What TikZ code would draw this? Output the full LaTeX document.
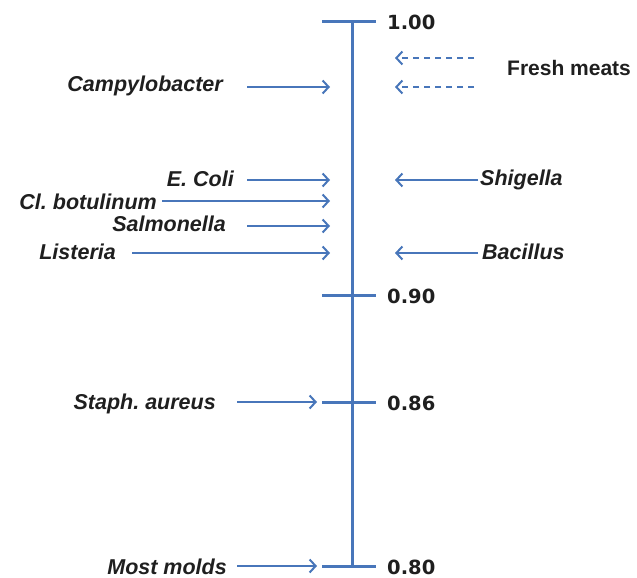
\documentclass[tikz,border=0pt]{standalone}
\usepackage{fontspec}
\setmainfont{Liberation Sans}
\newfontfamily\numfont{DejaVu Sans}
\usetikzlibrary{arrows.meta}
\definecolor{axisblue}{RGB}{72,118,186}
\begin{document}
\frenchspacing
\begin{tikzpicture}[x=1pt,y=-1pt,
  lbl/.style={font=\fontsize{21.5}{24}\selectfont\bfseries\itshape, inner sep=0pt, text=black!88},
  val/.style={font=\numfont\fontsize{19.5}{22}\selectfont\bfseries, inner sep=0pt, anchor=base west, text=black!88},
  arr/.style={draw=axisblue, line width=2pt, -{Straight Barb[length=6pt,width=13pt,line width=2pt]}},
  darr/.style={arr, dash pattern=on 6pt off 5pt},
  tick/.style={draw=axisblue, line width=3pt}]
\useasboundingbox (0,0) rectangle (637,578);

% axis and ticks
\coordinate (top) at (352,22);
\coordinate (bot) at (352,566);
\draw[draw=axisblue, line width=3pt] (top) -- (bot);
\foreach \y/\b/\v/\n in {22/30/1.00/a, 295/303/0.90/b, 402/410/0.86/c, 566/574/0.80/d}{
  \coordinate (tl\n) at (322,\y);
  \coordinate (tr\n) at (376,\y);
  \draw[tick] (tl\n) -- (tr\n);
  \node[val] (v\n) at (387,\b) {\v};
}

% left-hand organisms
\node[lbl, anchor=base east] (campy) at (223,92) {Campylobacter};
\node[lbl, anchor=base east] (ecoli) at (234,186) {E. Coli};
\node[lbl, anchor=base east] (clbot) at (157,209) {Cl. botulinum};
\node[lbl, anchor=base east] (salm) at (226,231) {Salmonella};
\node[lbl, anchor=base east] (list) at (116,259) {Listeria};
\node[lbl, anchor=base east] (staph) at (216,409) {Staph. aureus};
\node[lbl, anchor=base east] (molds) at (227,574) {Most molds};

\coordinate (campyS) at (247,87);  \coordinate (campyE) at (330,87);
\coordinate (ecoliS) at (247,180); \coordinate (ecoliE) at (330,180);
\coordinate (clbotS) at (162,201); \coordinate (clbotE) at (330,201);
\coordinate (salmS) at (247,226);  \coordinate (salmE) at (330,226);
\coordinate (listS) at (132,253);  \coordinate (listE) at (330,253);
\coordinate (staphS) at (237,402); \coordinate (staphE) at (317,402);
\coordinate (moldsS) at (237,566); \coordinate (moldsE) at (317,566);

\foreach \n in {campy, ecoli, clbot, salm, list, staph, molds}
  \draw[arr] (\n S) -- (\n E);

% right-hand organisms
\node[lbl, anchor=base west] (shig) at (480,185) {Shigella};
\node[lbl, anchor=base west] (bacil) at (482,259) {Bacillus};
\node[font=\fontsize{21}{24}\selectfont\bfseries, inner sep=0pt, anchor=base west, text=black!88] (meat) at (507,75) {Fresh meats};

\coordinate (shigS) at (478,180);  \coordinate (shigE) at (395,180);
\coordinate (bacilS) at (478,253); \coordinate (bacilE) at (395,253);
\coordinate (meatAS) at (474,58);  \coordinate (meatAE) at (395,58);
\coordinate (meatBS) at (474,87);  \coordinate (meatBE) at (395,87);

\draw[arr] (shigS) -- (shigE);
\draw[arr] (bacilS) -- (bacilE);
\draw[darr] (meatAS) -- (meatAE);
\draw[darr] (meatBS) -- (meatBE);
\end{tikzpicture}
\end{document}
